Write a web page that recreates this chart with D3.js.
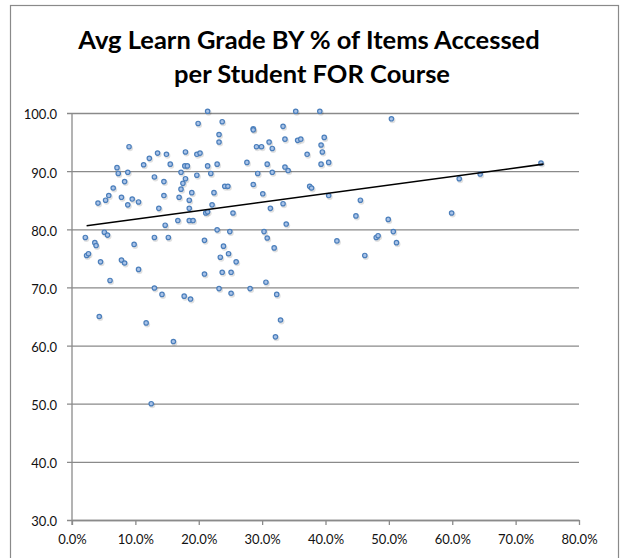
<!DOCTYPE html>
<html>
<head>
<meta charset="utf-8">
<script src="https://cdn.jsdelivr.net/npm/d3@7/dist/d3.min.js"></script>
<style>
  body { margin: 0; background: #fff; }
  .tick text { font-family: Lato, "Open Sans", sans-serif; font-size: 13px; fill: #111; }
  .title { font-family: Lato, "Open Sans", sans-serif; font-weight: bold; font-size: 25.5px; fill: #000; }
</style>
</head>
<body>
<div class="chart"></div>
<script>
// % of items accessed per student, and avg learn grade
var pctAccessed = [
  0.214, 0.199, 0.232, 0.232, 0.090, 0.122, 0.135, 0.149, 0.179, 0.197,
  0.202, 0.071, 0.113, 0.155, 0.178, 0.182, 0.214, 0.229, 0.073, 0.088,
  0.172, 0.219, 0.197, 0.130, 0.179, 0.083, 0.145, 0.175, 0.172, 0.065,
  0.189, 0.224, 0.058, 0.053, 0.041, 0.078, 0.095, 0.105, 0.088, 0.145,
  0.169, 0.185, 0.221, 0.137, 0.185, 0.211, 0.214, 0.147, 0.167, 0.185,
  0.191, 0.229, 0.021, 0.051, 0.056, 0.130, 0.152, 0.209, 0.237, 0.286,
  0.286, 0.333, 0.353, 0.391, 0.291, 0.299, 0.311, 0.316, 0.336, 0.356,
  0.361, 0.276, 0.308, 0.371, 0.336, 0.341, 0.293, 0.316, 0.241, 0.246,
  0.286, 0.375, 0.378, 0.301, 0.254, 0.313, 0.333, 0.249, 0.303, 0.338,
  0.308, 0.504, 0.398, 0.393, 0.395, 0.393, 0.405, 0.405, 0.455, 0.448,
  0.499, 0.599, 0.480, 0.483, 0.507, 0.611, 0.644, 0.740, 0.418, 0.512,
  0.462, 0.036, 0.038, 0.098, 0.023, 0.026, 0.045, 0.078, 0.083, 0.105,
  0.060, 0.209, 0.130, 0.142, 0.177, 0.187, 0.043, 0.117, 0.160, 0.319,
  0.239, 0.234, 0.247, 0.259, 0.237, 0.251, 0.306, 0.232, 0.281, 0.251,
  0.323, 0.329, 0.321, 0.125
];
var avgGrade = [
  100.3, 98.2, 96.3, 95.0, 94.2, 92.2, 93.1, 92.9, 93.3, 92.9,
  93.1, 90.6, 91.1, 91.2, 90.9, 90.9, 90.9, 91.2, 89.6, 89.8,
  89.8, 89.6, 89.3, 89.0, 88.7, 88.2, 88.2, 87.9, 86.9, 87.1,
  86.3, 86.3, 85.8, 85.0, 84.5, 85.5, 85.2, 84.7, 84.2, 85.8,
  85.5, 85.0, 84.2, 83.6, 83.6, 82.8, 83.0, 80.7, 81.5, 81.5,
  81.5, 79.9, 78.6, 79.5, 79.0, 78.6, 78.6, 78.1, 98.5, 97.3,
  97.1, 97.7, 100.3, 100.3, 94.2, 94.2, 95.0, 93.9, 95.5, 95.3,
  95.5, 91.5, 91.2, 92.9, 90.7, 90.1, 89.6, 89.8, 87.4, 87.4,
  87.7, 87.4, 87.1, 86.1, 82.8, 83.6, 84.4, 79.6, 79.6, 80.9,
  78.5, 99.0, 95.8, 94.5, 93.3, 91.2, 91.5, 85.8, 85.0, 82.3,
  81.7, 82.8, 78.6, 78.9, 79.6, 88.7, 89.5, 91.4, 78.0, 77.7,
  75.5, 77.7, 77.2, 77.4, 75.5, 75.8, 74.4, 74.7, 74.2, 73.1,
  71.2, 72.3, 69.9, 68.8, 68.5, 68.0, 65.0, 63.9, 60.7, 76.8,
  77.1, 75.2, 75.8, 74.4, 72.6, 72.6, 70.9, 69.8, 69.8, 69.0,
  68.8, 64.4, 61.5, 50.0
];

// linear trendline end points
var trendPct = [0.023, 0.744];
var trendGrade = [80.6, 91.2];

var xTicks = [0, 0.1, 0.2, 0.3, 0.4, 0.5, 0.6, 0.7, 0.8];
var yTicks = [30, 40, 50, 60, 70, 80, 90, 100];

var width = 620
var height = 558
var plotLeft = 72, plotRight = 579, plotTop = 113, plotBottom = 520

var svg = d3.select(".chart").append("svg")
            .attr("width", width)
            .attr("height", height);

// outer chart border
svg.append("rect")
   .attr("x", 10.5)
   .attr("y", 5.5)
   .attr("width", 608)
   .attr("height", 560)
   .attr("fill", "#fff")
   .attr("stroke", "#8a8a8a")
   .attr("stroke-width", 1.2);

var x = d3.scaleLinear().domain([0, 0.8]).range([plotLeft, plotRight]);
var y = d3.scaleLinear().domain([30, 100]).range([plotBottom, plotTop]);

var yAxis = svg.append("g")
               .attr("transform", "translate(" + plotLeft + ",0)")
               .call(d3.axisLeft(y)
                       .tickValues(yTicks)
                       .tickSize(-(plotRight - plotLeft))
                       .tickPadding(15)
                       .tickFormat(d3.format(".1f")));
yAxis.select(".domain").remove();
yAxis.selectAll(".tick line")
     .attr("x1", -5)
     .attr("stroke", "#8a8a8a")
     .attr("stroke-width", 1.3);
yAxis.selectAll(".tick text")
     .attr("dy", "0.45em");

var xAxis = svg.append("g")
               .attr("transform", "translate(0," + plotBottom + ")")
               .call(d3.axisBottom(x)
                       .tickValues(xTicks)
                       .tickSize(5)
                       .tickSizeOuter(0)
                       .tickPadding(10)
                       .tickFormat(d3.format(".1%")));
xAxis.select(".domain")
     .attr("stroke", "#8a8a8a")
     .attr("stroke-width", 1.3);
xAxis.selectAll(".tick line")
     .attr("stroke", "#8a8a8a")
     .attr("stroke-width", 1.3);

svg.append("line")
   .attr("x1", plotLeft)
   .attr("y1", plotTop)
   .attr("x2", plotLeft)
   .attr("y2", plotBottom + 5)
   .attr("stroke", "#8a8a8a")
   .attr("stroke-width", 1.3);

var points = d3.range(pctAccessed.length).map(function(i) {
  return { pct: pctAccessed[i], grade: avgGrade[i] };
});

// marker shadows
svg.append("g").selectAll("circle")
   .data(points)
   .enter()
   .append("circle")
   .attr("cx", function(d) { return x(d.pct) + 1; })
   .attr("cy", function(d) { return y(d.grade) + 1.5; })
   .attr("r", 3)
   .attr("fill", "#000")
   .attr("opacity", 0.12);

svg.append("g").selectAll("circle")
   .data(points)
   .enter()
   .append("circle")
   .attr("cx", function(d) { return x(d.pct); })
   .attr("cy", function(d) { return y(d.grade); })
   .attr("r", 2.2)
   .attr("fill", "#a9c3e8")
   .attr("stroke", "#4a7ebb")
   .attr("stroke-width", 1.2);

svg.append("line")
   .attr("x1", x(trendPct[0]))
   .attr("y1", y(trendGrade[0]))
   .attr("x2", x(trendPct[1]))
   .attr("y2", y(trendGrade[1]))
   .attr("stroke", "#000")
   .attr("stroke-width", 1.6);

svg.append("text")
   .attr("class", "title")
   .attr("x", 309)
   .attr("y", 49)
   .attr("text-anchor", "middle")
   .text("Avg Learn Grade BY % of Items Accessed");

svg.append("text")
   .attr("class", "title")
   .attr("x", 312)
   .attr("y", 83)
   .attr("text-anchor", "middle")
   .text("per Student FOR Course");
</script>
</body>
</html>
